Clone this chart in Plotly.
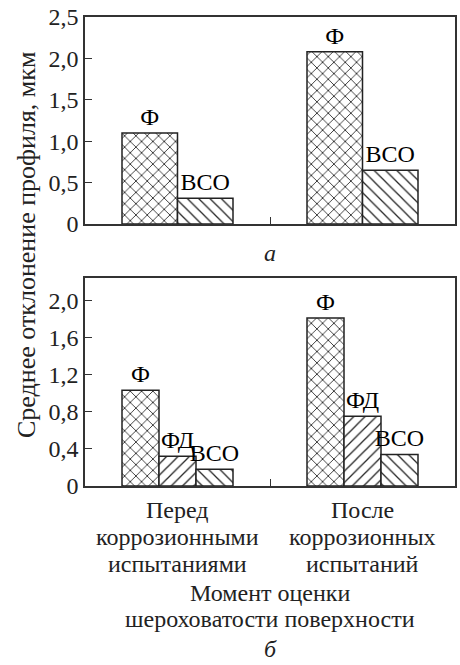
import plotly.graph_objects as go
from plotly.subplots import make_subplots

# ---- data ----
categories = ["Перед<br>коррозионными<br>испытаниями", "После<br>коррозионных<br>испытаний"]
a_names = ["Ф", "ВСО"]
a_values = {"Ф": [1.10, 2.08], "ВСО": [0.31, 0.65]}
b_names = ["Ф", "ФД", "ВСО"]
b_values = {"Ф": [1.03, 1.81], "ФД": [0.32, 0.75], "ВСО": [0.18, 0.34]}
a_ticks = [0, 0.5, 1.0, 1.5, 2.0, 2.5]
a_ticklabels = ["0", "0,5", "1,0", "1,5", "2,0", "2,5"]
b_ticks = [0, 0.4, 0.8, 1.2, 1.6, 2.0]
b_ticklabels = ["0", "0,4", "0,8", "1,2", "1,6", "2,0"]
x_title_lines = ["Момент оценки", "шероховатости поверхности"]
y_title = "Среднее отклонение профиля, мкм"

FONT = "Liberation Serif"
FS = 24
shapes = {"Ф": "x", "ФД": "/", "ВСО": "\\"}
solid = {"Ф": 0.2, "ФД": 0.16, "ВСО": 0.16}

W, H = 460, 665
ml, mr, mt, mb = 85, 5, 17, 179
ph = H - mt - mb

def py(y):  # pixel y -> paper
    return (H - mb - y) / ph

fig = make_subplots(rows=2, cols=1, vertical_spacing=0.1)

def add_bars(names, values, row):
    for n in names:
        fig.add_trace(go.Bar(
            x=categories, y=values[n], name=n,
            text=[n] * len(values[n]), textposition="outside",
            constraintext="none", cliponaxis=False,
            textfont=dict(family=FONT, size=FS, color="black"),
            marker=dict(color="white",
                        line=dict(color="#222", width=1.5),
                        pattern=dict(shape=shapes[n], size=8, solidity=solid[n],
                                     fgcolor="#222", bgcolor="white",
                                     fillmode="replace")),
            showlegend=False, hoverinfo="skip"), row=row, col=1)

add_bars(a_names, a_values, 1)
add_bars(b_names, b_values, 2)

fig.update_layout(
    width=W, height=H, margin=dict(l=ml, r=mr, t=mt, b=mb, autoexpand=False),
    paper_bgcolor="white", plot_bgcolor="white",
    barmode="group", bargap=0.4, bargroupgap=0,
    font=dict(family=FONT, size=FS, color="#222"),
)
xa = dict(type="category", tickson="boundaries", ticks="inside", ticklen=7,
          tickcolor="#333", showline=True, linecolor="#333", linewidth=1.5,
          mirror=True, showgrid=False, zeroline=False, automargin=False,
          showticklabels=False)
ya = dict(ticks="inside", ticklen=7, tickcolor="#333", showline=True,
          linecolor="#333", linewidth=1.5, mirror=True, showgrid=False,
          zeroline=False, automargin=False,
          tickfont=dict(family=FONT, size=FS, color="#222"))
fig.update_layout(
    xaxis=dict(xa, domain=[0, 1]),
    xaxis2=dict(xa, domain=[0, 1]),
    yaxis=dict(ya, domain=[py(224), 1], range=[0, 2.5], tickvals=a_ticks,
               ticktext=a_ticklabels),
    yaxis2=dict(ya, domain=[0, py(278)], range=[0, 2.24], tickvals=b_ticks,
                ticktext=b_ticklabels),
)

def annot(text, x, y, xref="paper", size=FS, **kw):
    fig.add_annotation(text=text, x=x, y=y, xref=xref, yref="paper",
                       showarrow=False, xanchor="center", yanchor="middle",
                       font=dict(family=FONT, size=size, color="#222"), **kw)

# category labels (one line each, tight line spacing as in the reference)
LINE = 27
for cat in categories:
    for i, line in enumerate(cat.split("<br>")):
        annot(line, cat, py(510 + i * LINE), xref="x2")
for i, line in enumerate(x_title_lines):
    annot(line, 0.5, py(592.5 + i * 26.5))

annot(y_title, -(ml - 26) / (W - ml - mr), py(245), size=26, textangle=-90)
annot("<i>а</i>", 0.5, py(253))
annot("<i>б</i>", 0.5, py(649))

fig.write_html("out.html", post_script="document.body.style.margin='0';",
               config={"displayModeBar": False})
